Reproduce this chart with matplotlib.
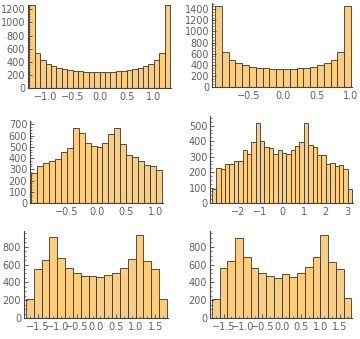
import numpy as np
import matplotlib.pyplot as plt
from matplotlib.ticker import AutoMinorLocator

# histogram counts, one list per panel
counts_1 = [1270, 535, 430, 365, 340, 305, 290, 270, 265, 255, 245, 245, 245,
            245, 245, 250, 260, 265, 270, 285, 305, 340, 370, 430, 540, 1270]
counts_2 = [1450, 630, 485, 430, 390, 355, 340, 335, 325, 320,
            320, 325, 340, 345, 360, 395, 430, 485, 630, 1450]
counts_3 = [270, 325, 360, 375, 395, 455, 490, 670, 620, 535, 510,
            500, 535, 615, 670, 525, 430, 410, 375, 340, 325, 290]
counts_4 = [90, 225, 220, 250, 250, 275, 275, 340, 315, 395, 515, 400, 360, 355, 315, 340,
            325, 320, 340, 370, 395, 520, 375, 365, 310, 310, 250, 260, 240, 245, 220, 90]
counts_5 = [210, 555, 650, 910, 675, 565, 510, 475, 475,
            465, 485, 500, 565, 665, 930, 640, 555, 210]
counts_6 = [210, 560, 640, 895, 685, 565, 510, 475, 450,
            495, 465, 510, 570, 685, 930, 625, 550, 220]

# bin ranges of each histogram
ranges = [(-1.3, 1.3), (-1.0, 1.0), (-1.1, 1.1), (-3.2, 3.2), (-1.8, 1.8), (-1.8, 1.8)]

xticks = [[-1.0, -0.5, 0.0, 0.5, 1.0],
          [-0.5, 0.0, 0.5, 1.0],
          [-0.5, 0.0, 0.5, 1.0],
          [-2, -1, 0, 1, 2, 3],
          [-1.5, -1.0, -0.5, 0.0, 0.5, 1.0, 1.5],
          [-1.5, -1.0, -0.5, 0.0, 0.5, 1.0, 1.5]]
ystep = [200, 200, 100, 100, 200, 200]

all_counts = [counts_1, counts_2, counts_3, counts_4, counts_5, counts_6]

# layout in pixels: left, right, top, bottom of each axes; then x limits and y top
W, H = 360, 339
boxes = [(28, 171, 5, 88), (212, 352, 3, 87),
         (30, 163, 121, 203), (210, 353, 116, 203),
         (24, 168, 231, 318), (210, 352, 231, 318)]
xlims = [(-1.324, 1.318), (-1.044, 1.015), (-1.117, 1.117),
         (-3.29, 3.245), (-1.851, 1.826), (-1.851, 1.813)]
ytops = [1265, 1513, 730, 563, 976, 976]

fill = '#fbcd7e'
edge = '#3d3426'
axcol = '#444444'
txtcol = '#606060'

fig = plt.figure(figsize=(W / 100, H / 100), dpi=100)

for i in range(6):
    l, r, t, b = boxes[i]
    ax = fig.add_axes([l / W, 1 - b / H, (r - l) / W, (b - t) / H])
    lo, hi = ranges[i]
    c = all_counts[i]
    edges = np.linspace(lo, hi, len(c) + 1)
    ax.bar(edges[:-1], c, width=np.diff(edges), align='edge',
           color=fill, edgecolor=edge, linewidth=0.6)
    ax.set_xlim(*xlims[i])
    ax.set_ylim(0, ytops[i])
    ax.set_xticks(xticks[i])
    if i == 3:
        ax.set_xticklabels([f'{v:d}'.replace('-', '\u2212') for v in xticks[i]])
    else:
        ax.set_xticklabels([f'{v:.1f}'.replace('-', '\u2212') for v in xticks[i]])
    ax.set_yticks(np.arange(0, ytops[i], ystep[i]))
    ax.yaxis.set_minor_locator(AutoMinorLocator(4))
    ax.xaxis.set_minor_locator(AutoMinorLocator(5))
    for s in ['top', 'right']:
        ax.spines[s].set_visible(False)
    for s in ['left', 'bottom']:
        ax.spines[s].set_color(axcol)
        ax.spines[s].set_linewidth(0.8)
    ax.tick_params(which='major', direction='in', length=3, width=0.6,
                   color=axcol, labelsize=7, labelcolor=txtcol, pad=2)
    ax.tick_params(which='minor', direction='in', length=1.5, width=0.5, color=axcol)
    ax.tick_params(axis='x', pad=3)
    ax.set_axisbelow(False)

fig.savefig('out.png', dpi=100)
